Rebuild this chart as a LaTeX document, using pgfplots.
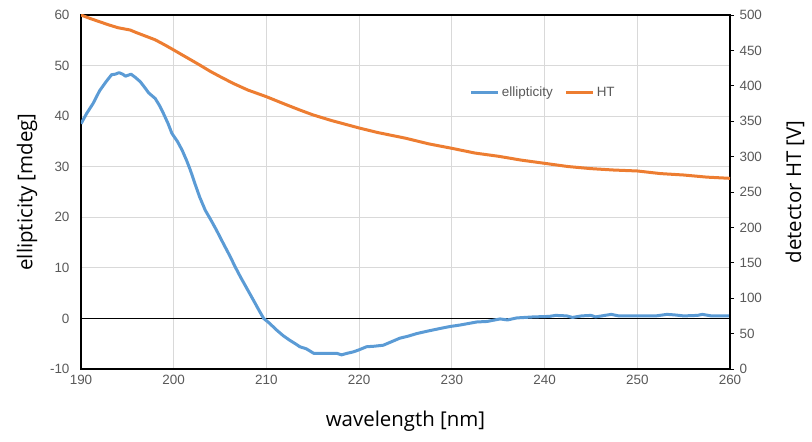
\documentclass[border=0pt]{standalone}
\usepackage{fontspec}
\setmainfont{Liberation Sans}
\newfontfamily\labelfont{Open Sans}
\usepackage{pgfplots}
\pgfplotsset{compat=1.18}
\definecolor{blueL}{HTML}{5B9BD5}
\definecolor{orangeL}{HTML}{ED7D31}
\definecolor{gridc}{HTML}{D9D9D9}
\definecolor{tickc}{HTML}{595959}
\pgfplotstableread{
x y
190 38.5
190.6 40.5
191.3 42.5
192.0 45.0
192.7 46.8
193.3 48.2
193.7 48.3
194.1 48.6
194.5 48.3
194.8 47.9
195.4 48.3
195.9 47.6
196.4 46.8
196.9 45.6
197.3 44.6
198.0 43.5
198.5 42.0
198.9 40.5
199.4 38.5
199.8 36.6
200.4 35.0
200.9 33.3
201.4 31.2
201.8 29.3
202.3 26.6
202.8 24.0
203.4 21.4
204.0 19.5
204.6 17.5
205.3 15.0
206.1 12.2
206.6 10.3
207.2 8.2
207.9 5.9
208.6 3.6
209.2 1.6
209.7 0.0
210.3 -0.9
211.1 -2.3
211.8 -3.4
212.5 -4.3
213.2 -5.1
213.6 -5.6
214.3 -6.0
215.1 -6.9
216.0 -6.9
217.0 -6.9
217.6 -6.9
218.1 -7.2
218.7 -6.9
219.4 -6.6
220.0 -6.2
220.8 -5.6
221.6 -5.5
222.6 -5.3
223.5 -4.6
224.4 -3.9
225.3 -3.5
226.2 -3.0
227.4 -2.5
228.7 -2.0
229.8 -1.6
230.9 -1.3
231.8 -1.0
232.7 -0.7
233.8 -0.6
235.2 -0.1
236.0 -0.3
237.0 0.1
238.8 0.3
240.5 0.4
241.2 0.6
242.4 0.5
243.0 0.2
244.0 0.5
245.0 0.6
245.5 0.3
246.5 0.6
247.2 0.8
248.0 0.5
250.0 0.5
252.0 0.5
253.2 0.8
254.0 0.7
255.0 0.5
256.5 0.6
257.0 0.8
258.0 0.5
260.0 0.5
}\ellip
\pgfplotstableread{
x y
190 500
191 495
192 490.5
193 486
194 482
195.3 478.8
196 475
197 470
198 465
199 458
200 450.6
201 443
202 435.5
202.8 429.4
204 420
205 413
206.4 403.5
208 394
210 384.6
212 374
213.6 365.8
215 359
217 351
220 340.4
222 334
225 326
227.5 318
230 311.7
232.5 305
235 300.5
237.5 295
240 290.5
242.5 286
245 283
247.5 281
250 279.7
252.5 276
255 274
257.5 271
260 269.3
}\htdata
\begin{document}
\begin{tikzpicture}
\useasboundingbox (-81bp,-73bp) rectangle (731bp,369bp);
\begin{axis}[
  at={(0,0)}, anchor=south west,
  scale only axis, width=649bp, height=354bp,
  xmin=190, xmax=260, ymin=-10, ymax=60,
  xtick={190,200,...,260}, ytick={-10,0,...,60},
  xmajorgrids, ymajorgrids,
  grid style={gridc, line width=1bp},
  major tick length=0pt,
  axis line style={black, line width=1.1bp},
  /pgf/number format/assume math mode=true,
  tick label style={font=\fontsize{13.5}{14}\selectfont, text=tickc},
  xticklabel style={yshift=-3bp},
  yticklabel style={xshift=-8bp},
  xlabel={wavelength [nm]},
  ylabel={ellipticity [mdeg]},
  xlabel style={font=\labelfont\fontsize{20.5}{22}\selectfont, at={(axis description cs:0.5,-0.147)}, anchor=center},
  ylabel style={font=\labelfont\fontsize{20.5}{22}\selectfont, at={(axis description cs:-0.083,0.5)}, anchor=center, rotate=0},
]
\addplot[black, line width=1bp, forget plot] coordinates {(190,0) (260,0)};
\addplot[blueL, line width=3bp, line join=round] table[x=x,y=y] {\ellip};
\end{axis}
\begin{axis}[
  at={(0,0)}, anchor=south west,
  scale only axis, width=649bp, height=354bp,
  xmin=190, xmax=260, ymin=0, ymax=500,
  axis x line=none, axis y line*=right,
  ytick={0,50,...,500},
  major tick length=4bp, tick align=outside,
  ytick style={black, line width=0.8bp},
  axis line style={black, line width=1.1bp},
  /pgf/number format/assume math mode=true,
  tick label style={font=\fontsize{13.5}{14}\selectfont, text=tickc},
  yticklabel style={xshift=2bp},
  ylabel={detector HT [V]},
  ylabel style={font=\labelfont\fontsize{20.5}{22}\selectfont, at={(axis description cs:1.100,0.5)}, anchor=center, rotate=0},
  legend style={draw=none, fill=none, at={(0.599,0.782)}, anchor=west, font=\fontsize{13.5}{14}\selectfont, text=tickc, inner sep=0pt,
    /tikz/every even column/.append style={column sep=10bp}},
  legend columns=2,
  legend image code/.code={\draw[#1] (0bp,0bp) -- (27bp,0bp);},
]
\addlegendimage{blueL, line width=3bp}
\addlegendentry{ellipticity}
\addplot[orangeL, line width=3bp, line join=round] table[x=x,y=y] {\htdata};
\addlegendentry{HT}
\end{axis}
\end{tikzpicture}
\end{document}
